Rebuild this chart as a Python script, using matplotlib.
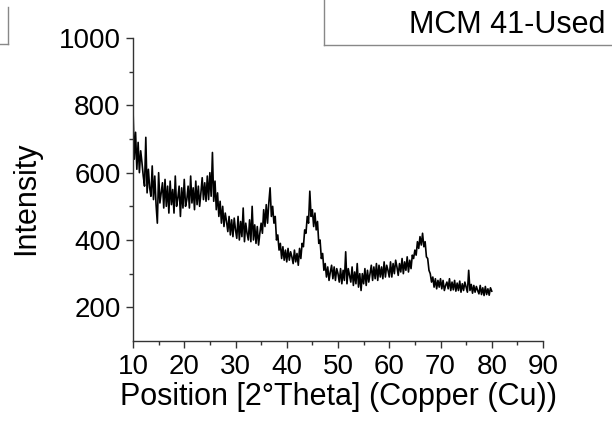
import numpy as np
import matplotlib
matplotlib.use('Agg')
import matplotlib.pyplot as plt
from matplotlib.lines import Line2D
from matplotlib.ticker import MultipleLocator, FixedLocator

plt.rcParams['font.family'] = ['Liberation Sans', 'DejaVu Sans']

# XRD pattern, 0.25 deg steps from 10 to 80
two_theta = np.arange(10.0, 80.001, 0.25)
intensity = [
    # 10 - 15
    790, 640, 720, 610, 690, 600, 665, 630, 590, 560,
    705, 540, 610, 555, 530, 620, 520, 590, 505, 450,
    # 15 - 20
    600, 510, 540, 570, 495, 580, 500, 560, 480, 575,
    505, 550, 480, 590, 500, 525, 560, 470, 555, 495,
    # 20 - 25
    580, 500, 520, 560, 495, 590, 510, 555, 490, 575,
    505, 560, 500, 540, 585, 520, 570, 515, 590, 520,
    # 25 - 30
    600, 530, 660, 515, 575, 490, 540, 470, 515, 450,
    500, 440, 480, 455, 425, 470, 415, 460, 410, 465,
    # 30 - 35
    430, 405, 470, 400, 455, 410, 495, 395, 450, 420,
    400, 460, 395, 500, 400, 445, 390, 440, 385, 420,
    # 35 - 40
    450, 420, 490, 440, 505, 450, 510, 555, 470, 500,
    450, 470, 400, 415, 370, 390, 345, 380, 340, 370,
    # 40 - 45
    335, 375, 340, 365, 350, 330, 370, 335, 360, 325,
    375, 345, 390, 380, 430, 420, 470, 450, 545, 470,
    # 45 - 50
    490, 440, 480, 430, 455, 390, 400, 345, 360, 310,
    330, 290, 320, 280, 305, 325, 285, 320, 280, 315,
    # 50 - 55
    300, 275, 315, 270, 310, 280, 365, 270, 315, 295,
    275, 320, 265, 305, 270, 330, 260, 300, 250, 300,
    # 55 - 60
    270, 315, 265, 310, 275, 300, 325, 280, 320, 285,
    330, 280, 325, 290, 320, 285, 335, 290, 325, 310,
    # 60 - 65
    290, 335, 290, 330, 300, 340, 320, 295, 330, 305,
    345, 300, 335, 310, 350, 305, 340, 315, 355, 345,
    # 65 - 70
    370, 355, 395, 375, 410, 385, 420, 380, 395, 350,
    345, 310, 300, 275, 290, 260, 285, 255, 280, 260,
    # 70 - 75
    285, 255, 280, 250, 265, 275, 255, 285, 250, 275,
    252, 280, 248, 272, 250, 278, 245, 270, 250, 275,
    # 75 - 80
    260, 245, 310, 250, 268, 242, 265, 245, 262, 250,
    240, 265, 238, 258, 235, 262, 238, 255, 236, 258,
    248,
]

fig = plt.figure(figsize=(6.12, 4.21), dpi=100)
ax = fig.add_axes([133 / 612, 80 / 421, 410 / 612, 303 / 421])

ax.plot(two_theta, intensity, color='black', linewidth=1.2)

ax.set_xlim(10, 90)
ax.set_ylim(100, 1000)
ax.xaxis.set_major_locator(MultipleLocator(10))
ax.xaxis.set_minor_locator(MultipleLocator(5))
ax.yaxis.set_major_locator(FixedLocator([200, 400, 600, 800, 1000]))
ax.yaxis.set_minor_locator(FixedLocator([300, 500, 700, 900]))

for side in ['top', 'right']:
    ax.spines[side].set_visible(False)
for side in ['left', 'bottom']:
    ax.spines[side].set_color('#333333')
    ax.spines[side].set_linewidth(1.0)

ax.tick_params(which='major', direction='out', length=5, width=1, color='#333333',
               labelsize=20, pad=4)
ax.tick_params(which='minor', direction='out', length=3, width=1, color='#333333')

ax.set_xlabel('Position [2°Theta] (Copper (Cu))', fontsize=22, labelpad=2)
ax.set_ylabel('Intensity', fontsize=22)
ax.yaxis.set_label_coords(-0.224, 0.47)

# legend-like box at the top right
fig.add_artist(Line2D([324 / 612, 324 / 612], [1.0, 1 - 45 / 421], color='#888888', lw=1))
fig.add_artist(Line2D([324 / 612, 1.0], [1 - 45 / 421, 1 - 45 / 421], color='#888888', lw=1))
fig.text(605 / 612, 1 - 25 / 421, 'MCM 41-Used', fontsize=22, ha='right', va='center')

# cut-off box at the top left
fig.add_artist(Line2D([8 / 612, 8 / 612], [1 - 7 / 421, 1 - 44 / 421], color='#888888', lw=1))
fig.add_artist(Line2D([0.0, 8 / 612], [1 - 44 / 421, 1 - 44 / 421], color='#888888', lw=1))

fig.savefig('out.png', dpi=100, facecolor='w')
